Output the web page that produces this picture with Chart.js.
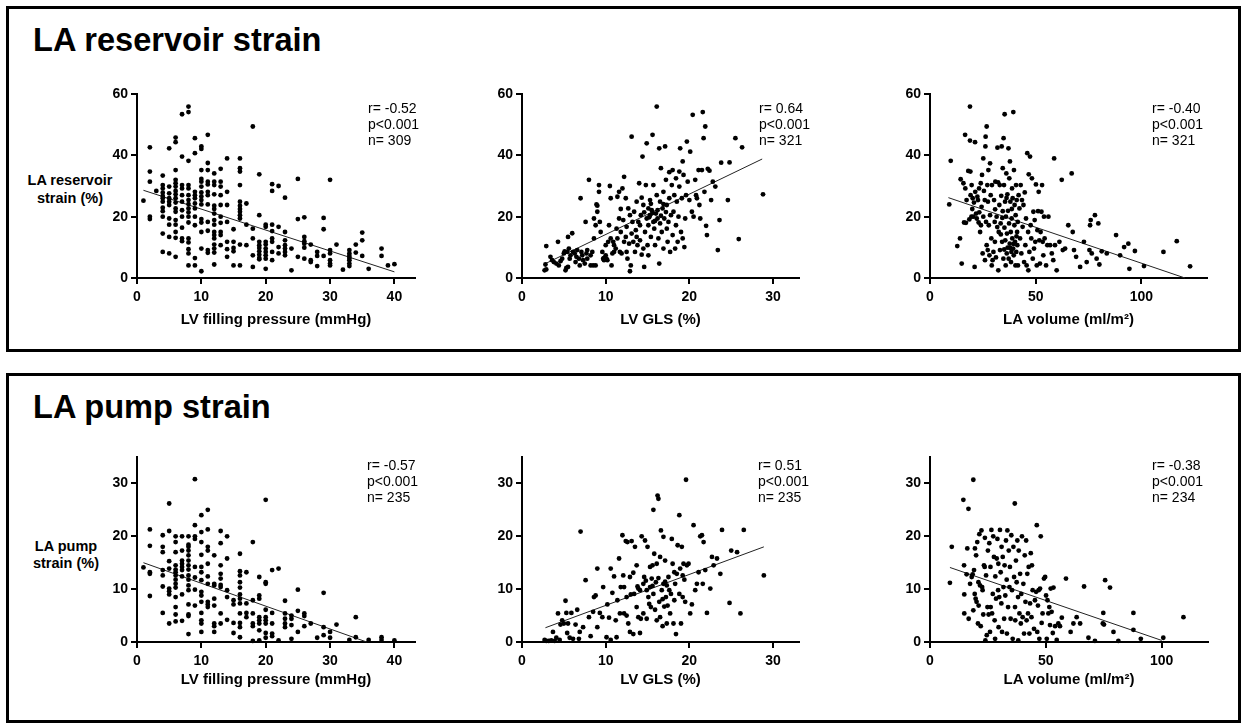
<!DOCTYPE html>
<html>
<head>
<meta charset="utf-8">
<script src="https://cdn.jsdelivr.net/npm/chart.js@4.4.0/dist/chart.umd.min.js"></script>
<style>
body { margin: 0; background: #fff; font-family: "Liberation Sans", Arial, sans-serif; color: #000; }
#page { position: relative; width: 1242px; height: 725px; overflow: hidden; }
.box { position: absolute; border: 3px solid #000; box-sizing: border-box; }
.title { position: absolute; font-weight: bold; font-size: 32.6px; line-height: 32px; white-space: nowrap; }
.ytitle { position: absolute; font-weight: bold; font-size: 14.5px; text-align: center; width: 110px; white-space: nowrap; }
.stats { position: absolute; font-size: 14px; line-height: 16px; white-space: pre; }
canvas { position: absolute; }
</style>
</head>
<body>
<div id="page">
  <div class="box" style="left:6px;top:6px;width:1235px;height:346px;"></div>
  <div class="box" style="left:6px;top:373px;width:1235px;height:350px;"></div>
  <div class="title" style="left:33px;top:24px;">LA reservoir strain</div>
  <div class="title" style="left:33px;top:391px;">LA pump strain</div>
  <div class="ytitle" style="left:15px;top:171px;line-height:18px;">LA reservoir<br>strain (%)</div>
  <div class="ytitle" style="left:11px;top:538px;line-height:17px;">LA pump<br>strain (%)</div>
</div>
<script>
// LA reservoir strain vs LV filling pressure
const resFill = [
  [1,25.2],
  [2,42.6],[2,34.7],[2,31.4],[2,20],[2,19.2],
  [3,28.4],
  [4,33.4],[4,30.3],[4,29.2],[4,27.8],[4,26.7],[4,26],[4,24.9],[4,22.9],[4,21.8],[4,20],[4,14.5],[4,8.5],
  [5,42.3],[5,29.8],[5,27.6],[5,26],[5,24.9],[5,23.8],[5,19.4],[5,17.4],[5,13.4],[5,8],
  [6,45.8],[6,44.3],[6,35.2],[6,32],[6,30.9],[6,29.8],[6,28.4],[6,27.3],[6,26],[6,24.6],[6,22.7],[6,21.6],[6,18.9],[6,17.4],[6,15],[6,13.1],[6,6.9],
  [7,53.4],[7,39.6],[7,30.3],[7,29.2],[7,27],[7,24.9],[7,22.1],[7,20],[7,16.4],[7,12.9],[7,12],
  [8,55.9],[8,54.1],[8,38.2],[8,30.3],[8,29.2],[8,27],[8,25.4],[8,24.1],[8,22.7],[8,21.4],[8,20],[8,18.1],[8,12.9],[8,11.6],[8,9.4],[8,8],[8,4.1],
  [9,45.6],[9,40.7],[9,28.1],[9,27],[9,26],[9,24.3],[9,22.7],[9,20],[9,17.2],[9,6.5],[9,4.1],
  [10,42.9],[10,42.1],[10,35.2],[10,32.3],[10,31.4],[10,29.8],[10,27.9],[10,26.6],[10,25.4],[10,24],[10,19.2],[10,18.1],[10,15],[10,9.6],[10,2.2],
  [11,46.7],[11,37.5],[11,35.2],[11,31.4],[11,30.5],[11,28.1],[11,27],[11,24],[11,18.3],[11,15.4],[11,9.1],[11,8.2],
  [12,34.1],[12,31.4],[12,30.3],[12,27.3],[12,23.6],[12,22.5],[12,21],[12,18.9],[12,17.4],[12,15],[12,14],[12,12.9],[12,10.9],[12,9.6],[12,8.3],[12,4.4],
  [13,35.6],[13,31.4],[13,29.8],[13,27],[13,23.8],[13,20],[13,18],[13,15],[13,14],[13,10.7],
  [14,39],[14,28.1],[14,23.8],[14,18.3],[14,11.8],[14,9.4],[14,6.9],
  [15,15.9],[15,11.8],[15,9.8],[15,8.7],[15,4.1],
  [16,39],[16,35.8],[16,34.7],[16,30.3],[16,24.9],[16,23.6],[16,22.5],[16,21.6],[16,20.5],[16,19.4],[16,10.9],[16,4.1],
  [17,24.3],[17,17.4],[17,10.7],
  [18,49.4],[18,16.1],[18,12.9],[18,7.4],[18,3.6],
  [19,33.8],[19,20.5],[19,11.8],[19,10.7],[19,9.8],[19,8.7],[19,7.6],[19,6.5],[19,6.1],
  [20,17.4],[20,16.7],[20,11.8],[20,10.9],[20,9.6],[20,8.5],[20,7.4],[20,6.3],[20,3],
  [21,30.6],[21,28.4],[21,17.4],[21,15.3],[21,12.9],[21,11.8],[21,8.5],[21,5.8],
  [22,30],[22,16.7],[22,10.1],[22,8],
  [23,26.2],[23,15],[23,12.3],[23,10.7],[23,9.6],[23,8.5],[23,7.4],
  [24,9.6],[24,2.5],
  [25,32.3],[25,19.2],[25,6.9],
  [26,19.8],[26,13.4],[26,12],[26,11.2],[26,9.9],[26,6.3],
  [27,10.9],[27,5.8],[27,5.2],
  [28,8.5],[28,7.2],[28,3.9],
  [29,19.6],[29,15.9],[29,7.2],
  [30,32],[30,9.1],[30,8],[30,5.8],[30,4.7],[30,4.1],
  [31,10.9],[32,2.7],
  [33,9.1],[33,8],[33,7.2],[33,6.5],[33,5.8],[33,4.7],[33,3.9],
  [34,10.9],[34,8.3],
  [35,14.8],[35,12.3],[35,7.2],
  [36,3],[38,9.6],[38,7.2],[39,4.1],[40,4.5]
];
const resFillFit = [[1,28.6],[40,2.0]];

// LA reservoir strain vs LV GLS
const resGls = [
  [2.8,4.4],[2.7,2.5],[2.9,2.8],[2.9,10.4],[3.4,6.9],[3.6,5.8],[3.8,5.2],[4.1,4.7],[4.4,4.1],[4.3,11.8],
  [4.6,5.5],[4.8,6.3],[5,8],[5.1,8.7],[5.2,2.5],[5.3,3.3],[5.5,3.6],[5.4,8.5],[5.5,13.4],[5.6,9.6],
  [5.7,6.3],[5.8,7.4],[6,14.6],[6.1,8.5],[6.3,8],[6.4,5.2],[6.5,6.9],[6.6,9.1],[6.8,6.3],[6.9,4.1],
  [7,26],[7.1,8.5],[7.2,7.4],[7.3,5.8],[7.5,4.7],[7.6,18.3],[7.7,8],[7.8,9.1],[7.8,6.3],[8,32],
  [8.2,4.1],[8.2,7.4],[8.4,8.5],[8.5,4.1],[8.6,19.4],[8.6,12.9],[8.8,4.1],[8.8,17.2],[8.9,24],[9,23.6],
  [9,21.6],[9.2,28.1],[9.2,30.3],[9.3,18.3],[9.4,15],[9.6,8.5],[9.7,6.3],[9.8,6.5],[9.8,5.8],[10,7.4],
  [10,10.7],[10.1,6.3],[10.2,5.8],[10.3,11.8],[10.4,17.2],[10.5,30],[10.6,26],[10.6,12.9],[10.7,4.1],[10.8,8],
  [10.9,11.8],[11,10.7],[11,8.5],[11.2,9.6],[11.3,16.1],[11.4,26.5],[11.4,12.9],[11.6,28.1],[11.6,19.4],[11.7,8.5],
  [11.8,22.5],[11.8,15],[11.9,8],[12,29.2],[12.1,18.9],[12.2,33],[12.2,11.8],[12.4,26],[12.4,13.4],[12.5,16.7],
  [12.5,8.5],[12.6,6.3],[12.7,22.7],[12.8,11.2],[12.9,20.5],[12.9,2.2],[13,4.1],[13.1,46.1],[13.1,14.5],[13.2,18.3],
  [13.3,11.8],[13.4,21.6],[13.5,8.5],[13.6,15.6],[13.7,24.9],[13.7,13.4],[13.8,10.7],[13.9,18.3],[14,30.9],[14.1,12.3],
  [14.1,17.2],[14.2,20.5],[14.3,7.6],[14.4,39.6],[14.5,9.6],[14.5,23.8],[14.6,3.6],[14.7,15],[14.8,30.3],[14.9,43.9],
  [14.9,19.4],[15,10.7],[15.1,22.7],[15.1,7.4],[15.1,17.2],[15.3,25.4],[15.3,20.5],[15.4,13.4],[15.5,22.1],[15.6,46.7],
  [15.7,18.3],[15.7,30.3],[15.8,16.1],[15.9,10.7],[16,21],[16.1,27],[16.1,55.9],[16.2,19.4],[16.3,12.9],[16.4,42.3],
  [16.4,4.7],[16.5,24.9],[16.5,17.8],[16.6,35.8],[16.7,15],[16.8,22.7],[16.9,9.6],[16.9,28.1],[17,19.4],[17.1,42.9],
  [17.2,32],[17.3,16.1],[17.3,23.8],[17.4,11.8],[17.5,18.3],[17.6,34.5],[17.6,26],[17.7,8.5],[17.8,20.5],[17.9,30.3],
  [18,35.2],[18,14],[18.1,21.6],[18.2,27],[18.3,9.6],[18.4,17.2],[18.4,32.5],[18.5,24.9],[18.6,11.8],[18.7,20],
  [18.8,29.8],[18.8,34.7],[18.9,42.3],[19,15],[19.1,26],[19.2,38],[19.2,12.9],[19.3,33.6],[19.4,10.1],[19.5,19.4],
  [19.6,27],[19.7,44.5],[19.8,31.4],[20,25.4],[20.1,41.2],[20.3,21.6],[20.4,53.2],[20.5,20],[20.7,32],[20.8,27],
  [20.9,26],[21.1,35.2],[21.2,23.8],[21.3,19.4],[21.5,35.2],[21.6,54.1],[21.7,45.6],[21.8,28.1],[21.9,49.4],[22,17],
  [22.1,14],[22.2,35.6],[22.4,35],[22.6,25.4],[22.8,31.4],[23.1,29.8],[23.4,9.1],[23.6,18.9],[23.8,37.6],[24.6,25.4],
  [24.8,37.7],[25.5,45.6],[25.9,12.7],[26.3,42.6],[28.8,27.3],
  [15.2,19.8],[15.6,21.2],[16.2,22.1],[16.6,20.3],[15.9,18.6],[14.6,21.4],[17.2,21.5],[16.9,24.1],[15.4,24.2],[14.3,26.2]
];
const resGlsFit = [[2.8,4.7],[28.7,38.8]];

// LA reservoir strain vs LA volume
const resVol = [
  [9.1,24],[9.8,38.2],[12.9,10.4],[14.2,12.9],[14.5,32.2],[15,4.7],[15.8,30.9],[16.1,18.1],[16.6,46.7],[16.7,29.2],
  [17,18],[17.3,25.4],[18.1,34.9],[18.6,19.1],[18.9,55.9],[18.9,44.8],[19.1,34.7],[19.2,27],[19.6,20],[19.7,30.3],
  [20,22.5],[20.2,26],[20.5,20],[20.8,24.6],[21.1,3.6],[21.3,44.3],[21.4,28.1],[21.8,21],[22.1,19.4],[22.4,26.5],
  [22.7,25.4],[23,18.1],[23.2,29.2],[23.3,21.4],[23.7,15],[24,30.9],[24.1,17.2],[24.4,23.2],[24.6,33.6],[24.9,8],
  [25.2,39],[25.2,20],[25.5,28.4],[25.9,25.4],[26,5.8],[26.2,42.9],[26.3,46.1],[26.5,18.3],[26.8,49.4],[26.8,10.7],
  [27.1,30.3],[27.3,9.1],[27.4,24.9],[27.6,35.2],[27.8,17.2],[28.1,7.4],[28.4,37.4],[28.4,20.5],[28.7,27],[29,12.9],
  [29.2,4.1],[29.3,30.3],[29.6,5.8],[30,8.5],[30.3,25.4],[30.6,18.3],[30.7,11.8],[30.9,31.4],[31.2,6.7],[31.5,20],
  [31.9,42.5],[32.2,31.2],[32.3,2.5],[32.5,15],[32.8,23.8],[33,30.3],[33.1,9.1],[33.4,17.8],[33.7,26.8],[33.9,42.9],
  [34.1,11.8],[34.4,35.8],[34.4,21.8],[34.7,6.3],[34.8,45.6],[35,30.3],[35.2,16.4],[35.3,53.4],[35.5,24.9],[35.6,12.3],
  [35.8,4.1],[35.9,20],[36.1,34.1],[36.3,8],[36.4,14.5],[36.6,27.3],[36.7,9.9],[36.9,21.9],[37.1,42.3],[37.2,6.3],
  [37.4,17.8],[37.5,32.5],[37.7,11.2],[37.8,38],[38,24.9],[38.2,15],[38.3,5.2],[38.5,8.5],[38.6,19.4],[38.8,29.2],
  [38.9,12.9],[39.1,26],[39.3,9.6],[39.4,54.1],[39.6,7.4],[39.7,35.2],[39.9,17.2],[40,23.8],[40.2,11.8],[40.4,4.1],
  [40.5,20.5],[40.7,30.3],[40.8,8.5],[41,25.4],[41.2,15],[41.3,10.7],[41.5,18.3],[41.6,4.1],[41.9,27],[42.3,22.7],
  [42.6,12.9],[42.9,30.3],[43.2,8],[43.5,25.4],[43.8,16.7],[44.2,23.8],[44.5,5.2],[44.8,27.9],[45.1,10.7],[45.4,19.4],
  [45.7,4.1],[46,40.7],[46.4,15],[46.5,2.5],[46.7,33.8],[47,8.5],[47.3,39.6],[47.6,17.2],[47.9,12.9],[48.2,32.5],
  [48.6,6.3],[48.9,21.6],[49.2,9.6],[49.5,18.9],[49.8,11.8],[50.1,30.5],[50.5,4.1],[50.8,15.6],[51.1,21.8],[51.4,28.1],
  [51.7,12.3],[52,4.7],[52.3,15],[52.7,21.6],[53,30.3],[53.3,11.8],[53.6,7.4],[53.9,20],[54.2,12.9],[54.9,4.1],
  [55.5,10.7],[56,20],[56.8,10.7],[57.6,8],[58.3,5.8],[58.7,39],[59.1,10.7],[59.9,2.5],[61.2,11.8],[62.3,32],
  [62.8,9.1],[63.9,9.6],[65.4,17.2],[67,34.1],[67.5,15],[68.1,9.1],[69.1,6.9],[71,3.6],[72.8,11.8],[74.1,5.2],
  [75.4,9.1],[75.7,17.2],[76,18.9],[76.5,8],[78,20.5],[78.8,6.3],[79.6,17.8],[80.1,4.4],[81.2,8.7],[83.6,8],
  [88,14],[89.9,7.4],[91.8,10.1],[93.8,11.2],[94.3,3],[96.9,8.8],[101.2,3.9],[110.4,8.5],[116.7,12],[123,3.8],
  [30.8,22.4],[34.2,19.6],[36.2,26.1],[38.7,22.5],[40.9,13.6],[37.9,9.8],[35.1,9.3],[33.5,14.2],[39.5,11.1],[31.8,16.6]
];
const resVolFit = [[8.7,26.2],[120.6,0]];

// LA pump strain vs LV filling pressure
const pumpFill = [
  [1,14.1],
  [2,21.3],[2,18.2],[2,13.2],[2,12.9],[2,8.7],
  [4,20.2],[4,18],[4,17],[4,13.6],[4,12.6],[4,10.5],[4,5.5],
  [5,26.2],[5,21],[5,15.3],[5,13.9],[5,10.1],[5,9.6],[5,9],[5,3.5],
  [6,20],[6,18.9],[6,17],[6,14.5],[6,13.7],[6,13.2],[6,12.6],[6,11.8],[6,11],[6,10.3],[6,8.5],[6,6.6],[6,5.2],[6,3.9],
  [7,20],[7,17.3],[7,15.4],[7,14.8],[7,14.2],[7,13.6],[7,12.4],[7,9],[7,4],
  [8,20],[8,18.4],[8,18],[8,17.3],[8,16.4],[8,15.4],[8,14.5],[8,13.7],[8,12.6],[8,11.8],[8,10.7],[8,9.8],[8,7.1],[8,5.2],[8,4.9],[8,1.5],
  [9,30.8],[9,22.1],[9,20],[9,19.5],[9,14.2],[9,12.2],[9,9.9],[9,6.9],
  [10,24],[10,20.8],[10,18.9],[10,16.5],[10,14.2],[10,13.2],[10,11.7],[10,9.5],[10,8.8],[10,7.6],[10,5.5],[10,4.1],[10,3.5],[10,1.9],
  [11,25],[11,21.3],[11,18],[11,17.3],[11,14.8],[11,12.4],[11,11],[11,7.6],[11,7.1],[11,6.6],
  [12,16.4],[12,11],[12,10.7],[12,8.2],[12,6.9],[12,3.5],[12,3],[12,1.9],
  [13,21],[13,18.7],[13,14.5],[13,12.9],[13,12],[13,10.8],[13,10.4],[13,5.4],[13,3.5],
  [14,20],[14,15.8],[14,9.8],[14,8.5],[14,4.2],
  [15,7.9],[15,7.1],[15,3.6],[15,1.7],
  [16,16.7],[16,13.4],[16,12.6],[16,11.3],[16,10.3],[16,9],[16,8.2],[16,7.3],[16,5.4],[16,3.6],[16,2.8],[16,0.9],
  [17,13.2],[17,7.3],[17,5.5],[17,4.7],
  [18,18.9],[18,7.9],[18,5.4],[18,3.5],[18,3],[18,0.2],
  [19,12.3],[19,8.8],[19,8.2],[19,4.7],[19,4.1],[19,3.5],[19,2.2],[19,0.3],
  [20,26.9],[20,11.3],[20,11],[20,6.1],[20,4.7],[20,4.1],[20,3.5],[20,1.7],[20,0.8],
  [21,13.6],[21,5.5],[21,3.5],[21,1.6],[21,1.1],
  [22,13.9],[22,0.3],
  [23,7.8],[23,5.4],[23,4.4],[23,3.5],[23,2.8],
  [24,5],[24,4.4],[24,3.2],[24,0.6],
  [25,9.9],[25,5.9],[25,1.9],
  [26,5.4],[26,4.9],[26,3],
  [27,3.5],[28,0.8],
  [29,9.3],[29,2.8],[29,1.3],
  [30,1.9],[30,0.8],
  [31,3.3],[33,0.4],[34,4.7],[34,0.9],[36,0.4],[38,0.9],[38,0.4],[40,0.3]
];
const pumpFillFit = [[1,15],[35.7,0]];

// LA pump strain vs LV GLS
const pumpGls = [
  [2.7,0.4],[2.9,0.2],[3.2,0.2],[3.5,0.3],[3.7,1.9],[3.9,0.2],[4.1,0.8],[4.3,5.4],[4.5,0.4],[4.6,3.3],
  [4.8,4.1],[5,3.5],[5.2,7.8],[5.3,5.5],[5.4,1.7],[5.5,3.5],[5.7,0.8],[5.9,5.5],[6.1,0.6],[6.4,3.3],
  [6.6,6.1],[6.8,0.6],[6.9,1.9],[7,20.9],[7.3,2.8],[7.6,11.7],[8,4.7],[8.2,1.1],[8.5,5.7],[8.6,8.5],
  [8.8,8.8],[9,13.9],[9,2.8],[9.3,5.5],[9.6,4.7],[9.7,10.4],[10.1,0.9],[10.2,7.1],[10.4,4.6],[10.6,0.4],
  [10.6,13.9],[10.8,9.3],[11,12.4],[11.2,4.1],[11.3,0.9],[11.4,7.9],[11.6,15.8],[11.7,5.4],[11.8,10.4],[12,20.2],
  [12.1,12.6],[12.2,5.4],[12.2,10.4],[12.4,19.1],[12.5,8.5],[12.5,5],[12.6,18.9],[12.7,3.5],[12.9,12.3],[12.9,1.9],
  [13,9],[13.1,19.1],[13.3,13.1],[13.3,1.5],[13.4,9.1],[13.5,18],[13.7,6.6],[13.7,14.5],[13.8,10.5],[13.9,4.7],
  [14.1,9.8],[14.1,1.7],[14.2,4.4],[14.3,20],[14.5,11],[14.5,5.4],[14.6,12.3],[14.7,19.2],[14.9,9.8],[14.9,4.4],
  [15,18],[15.1,8.5],[15.3,14.2],[15.3,10.4],[15.4,6.6],[15.5,12],[15.6,14.5],[15.7,25],[15.7,9.1],[15.8,16.7],
  [15.9,6.1],[16,11.3],[16.1,14.8],[16.1,4.1],[16.2,27.7],[16.3,27.1],[16.4,7.6],[16.5,16.1],[16.5,4.7],[16.6,21.1],
  [16.7,9.8],[16.8,3],[16.9,19.9],[16.9,11],[17,6.7],[17.1,15.4],[17.2,8.5],[17.3,3.5],[17.3,10.7],[17.4,6.9],
  [17.5,12.3],[17.6,9.8],[17.7,5.4],[17.8,9.1],[17.9,19.5],[18,14.8],[18.1,3.5],[18.2,7.9],[18.3,11],[18.4,1.5],
  [18.5,12.9],[18.6,18.3],[18.8,9.1],[18.8,24],[18.9,13.9],[19,3.5],[19.1,18],[19.2,8.5],[19.2,12.6],[19.3,14.8],
  [19.4,11.8],[19.5,7.6],[19.6,30.7],[19.7,14.5],[19.9,14.8],[20.1,5.4],[20.3,7.1],[20.5,22.1],[20.7,9.8],[20.9,11],
  [21.1,13.2],[21.3,20],[21.5,20.2],[21.6,11],[21.7,18.9],[21.9,13.6],[22.1,5.5],[22.5,10.1],[22.7,16.1],[22.9,14.5],
  [23.3,15.8],[23.7,12.9],[23.9,21.2],[24.8,7.4],[25,17.3],[25.7,17],[26.1,5.4],[26.5,21.2],[28.9,12.6],
  [14.8,11.6],[15.6,10.6],[16.3,12.1],[17.1,11.4],[18.2,13.2],[13.9,10.1],[16.8,8.1],[15.2,7.2]
];
const pumpGlsFit = [[2.8,2.7],[28.9,18]];

// LA pump strain vs LA volume
const pumpVol = [
  [8.6,11.2],[9.4,18],[14.4,26.9],[14.7,14.5],[14.8,9],[14.8,5.4],[15.8,12.8],[16.1,17.7],[16.6,25.2],[16.7,4.4],
  [17.3,11],[18,12.3],[18.4,12.8],[18.7,30.7],[18.7,6],[19,13.6],[19.3,9.1],[19.4,17.7],[19.7,8.2],[19.9,16.4],
  [20.1,7.6],[20.4,18.9],[20.7,3.5],[20.9,11.3],[21,6.9],[21.3,20.4],[21.6,10.7],[21.9,3],[22.2,21.1],[22.5,10.4],
  [22.7,9.8],[23,5.2],[23.3,14.5],[23.6,14.2],[23.7,19.7],[23.9,0.3],[24.2,12.6],[24.5,1.3],[24.8,6.6],[25,17.3],
  [25.3,5.2],[25.6,18.7],[25.9,1.9],[26.1,14.2],[26.2,6.6],[26.5,21.2],[26.8,5.4],[27.1,9.1],[27.3,20],[27.6,16.1],
  [27.9,4.1],[28.1,0.6],[28.2,12.4],[28.5,8.2],[28.8,15.8],[29.1,19.5],[29.4,9.8],[29.5,14.8],[29.6,2.8],[29.9,8.5],
  [30.2,21.2],[30.5,13.2],[30.8,7.3],[30.9,18],[31.1,1.9],[31.4,16.1],[31.7,10.4],[32,4.4],[32.2,14.5],[32.5,8.8],
  [32.8,19.2],[33.1,11.8],[33.2,1.6],[33.4,21.1],[33.7,6.6],[34,17.3],[34.3,10.4],[34.5,14.2],[34.8,4.4],[35.1,20.2],
  [35.4,9.8],[35.7,0.6],[36,18],[36.3,12.3],[36.6,26.2],[36.7,6.6],[36.8,4.1],[37.1,15.4],[37.4,11.3],[37.7,19.2],
  [38,8.5],[38.1,0.3],[38.3,17.3],[38.6,5.4],[38.9,12.9],[39.2,3.5],[39.4,9.1],[39.7,20],[40,4.7],[40.3,11],
  [40.6,1.6],[40.9,16.4],[41.2,7.6],[41.5,19.2],[41.7,4.1],[42,12.9],[42.3,5.4],[42.6,14.2],[42.9,1.6],[43.2,7.3],
  [43.5,16.8],[43.8,4.7],[44,14.5],[44.3,9.8],[44.9,2.5],[45.3,7.9],[45.8,9.5],[46.1,22.1],[46.3,1.9],[46.6,6.9],
  [46.9,9.8],[47.2,0.6],[47.5,10.1],[47.8,20],[48.2,3.6],[48.6,5.4],[49.2,12],[49.7,12.3],[50.1,8.8],[50.4,0.6],
  [50.7,7.9],[51.1,5.4],[51.5,6.6],[51.8,3.2],[52.1,10.1],[52.5,5.7],[53,1.7],[53.3,10.3],[54,3],[54.7,0.4],
  [55.4,3.5],[56.1,3],[56.9,4.6],[58.7,12],[60.7,1.9],[61.9,3.5],[63.3,4.7],[64.8,3.5],[66.5,10.5],[68.4,0.8],
  [71.2,0.2],[74.6,3.5],[74.8,5.5],[75.1,3.3],[75.6,11.7],[77.7,10.3],[79.2,1.9],[81.3,0.2],[87.8,5.5],[87.8,2.3],
  [91,0.6],[100.7,0.8],[109.4,4.7]
];
const pumpVolFit = [[8.6,14.1],[100,0.3]];

const xTitles = ['LV filling pressure (mmHg)', 'LV GLS (%)', 'LA volume (ml/m²)'];

const panels = [
  { left: 77,  top: 74,  w: 358, h: 264, pts: resFill,  fit: resFillFit,  xMax: 43.2, xStep: 10, yMax: 60, yStep: 20, xTitle: xTitles[0], pad: 9,  stats: 'r= -0.52\np<0.001\nn= 309', sx: 368,  sy: 100 },
  { left: 462, top: 74,  w: 357, h: 264, pts: resGls,   fit: resGlsFit,   xMax: 33.1, xStep: 10, yMax: 60, yStep: 20, xTitle: xTitles[1], pad: 9,  stats: 'r= 0.64\np<0.001\nn= 321',  sx: 759,  sy: 100 },
  { left: 870, top: 74,  w: 357, h: 264, pts: resVol,   fit: resVolFit,   xMax: 131,  xStep: 50, yMax: 60, yStep: 20, xTitle: xTitles[2], pad: 9,  stats: 'r= -0.40\np<0.001\nn= 321', sx: 1152, sy: 100 },
  { left: 77,  top: 437, w: 358, h: 265, pts: pumpFill, fit: pumpFillFit, xMax: 43.2, xStep: 10, yMax: 35, yStep: 10, xTitle: xTitles[0], pad: 13, stats: 'r= -0.57\np<0.001\nn= 235', sx: 367,  sy: 457 },
  { left: 462, top: 437, w: 357, h: 265, pts: pumpGls,  fit: pumpGlsFit,  xMax: 33.1, xStep: 10, yMax: 35, yStep: 10, xTitle: xTitles[1], pad: 13, stats: 'r= 0.51\np<0.001\nn= 235',  sx: 758,  sy: 457 },
  { left: 870, top: 437, w: 358, h: 265, pts: pumpVol,  fit: pumpVolFit,  xMax: 120,  xStep: 50, yMax: 35, yStep: 10, xTitle: xTitles[2], pad: 13, stats: 'r= -0.38\np<0.001\nn= 234', sx: 1152, sy: 457 }
];

Chart.defaults.font.family = '"Liberation Sans", Arial, sans-serif';
Chart.defaults.color = '#000';

const page = document.getElementById('page');
const toXY = arr => arr.map(([x, y]) => ({ x, y }));

panels.forEach(p => {
  const cv = document.createElement('canvas');
  cv.width = p.w;
  cv.height = p.h;
  cv.style.left = p.left + 'px';
  cv.style.top = p.top + 'px';
  page.appendChild(cv);

  const st = document.createElement('div');
  st.className = 'stats';
  st.style.left = p.sx + 'px';
  st.style.top = p.sy + 'px';
  st.textContent = p.stats;
  page.appendChild(st);

  const axisGrid = { drawOnChartArea: false, drawTicks: true, tickLength: 6, color: '#000', lineWidth: 2 };
  new Chart(cv, {
    type: 'scatter',
    data: {
      datasets: [
        { data: toXY(p.pts), pointRadius: 2.4, pointHoverRadius: 2.4, backgroundColor: '#000', borderWidth: 0, clip: false },
        { data: toXY(p.fit), showLine: true, pointRadius: 0, borderColor: '#222', borderWidth: 1, clip: false }
      ]
    },
    options: {
      responsive: false,
      animation: false,
      devicePixelRatio: 1,
      layout: { padding: { top: 20, right: 20, left: 0, bottom: 0 } },
      plugins: { legend: { display: false }, tooltip: { enabled: false } },
      scales: {
        x: {
          type: 'linear', min: 0, max: p.xMax,
          afterFit: s => { s.height = 60; },
          ticks: { stepSize: p.xStep, includeBounds: false, padding: 5, font: { weight: 'bold', size: 14 } },
          grid: axisGrid,
          border: { color: '#000', width: 2 },
          title: { display: true, text: p.xTitle, font: { weight: 'bold', size: 15 }, padding: { top: 0, bottom: p.pad } }
        },
        y: {
          type: 'linear', min: 0, max: p.yMax,
          afterFit: s => { s.width = 60; },
          ticks: { stepSize: p.yStep, includeBounds: false, padding: 3, font: { weight: 'bold', size: 14 } },
          grid: axisGrid,
          border: { color: '#000', width: 2 }
        }
      }
    }
  });
});
</script>
</body>
</html>
